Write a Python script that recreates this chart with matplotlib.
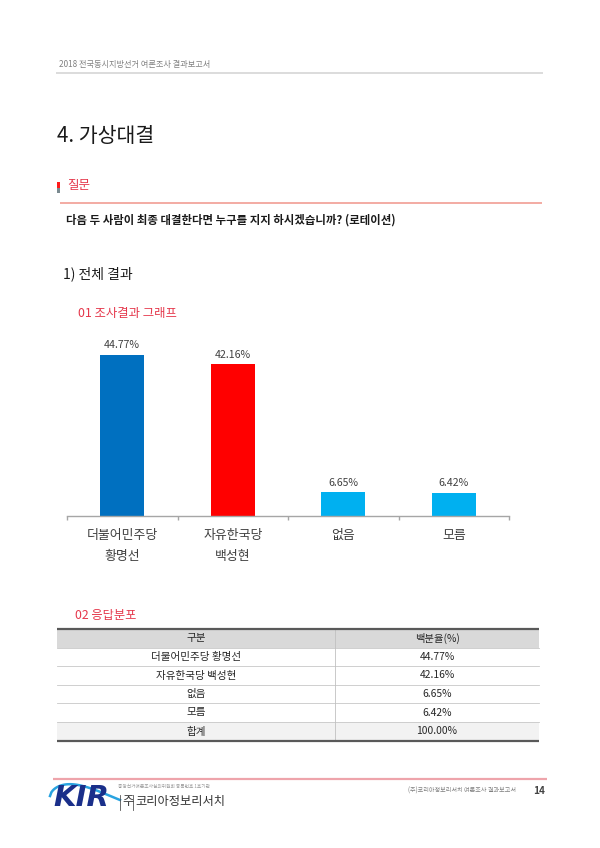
import matplotlib
matplotlib.use("Agg")
import matplotlib.pyplot as plt
from matplotlib.patches import Rectangle
import numpy as np

plt.rcParams['font.family'] = ['Noto Sans CJK KR', 'DejaVu Sans']

# ---------------- data ----------------
categories = ["더불어민주당\n황명선", "자유한국당\n백성현", "없음", "모름"]
values = [44.77, 42.16, 6.65, 6.42]
bar_colors = ["#0070c0", "#ff0000", "#00b0f0", "#00b0f0"]
table_header = ["구분", "백분율(%)"]
total_label = "합계"
total_value = 100.00

header_text = "2018 전국동시지방선거 여론조사 결과보고서"
title_text = "4. 가상대결"
question_label = "질문"
question_text = "다음 두 사람이 최종 대결한다면 누구를 지지 하시겠습니까? (로테이션)"
section_text = "1) 전체 결과"
graph_title = "01 조사결과 그래프"
table_title = "02 응답분포"

RED = "#e5374b"
W, H = 600, 848

fig = plt.figure(figsize=(W / 100, H / 100), dpi=100)
fig.patch.set_facecolor("white")

# page overlay axes in pixel coordinates
page = fig.add_axes([0, 0, 1, 1])
page.set_xlim(0, W)
page.set_ylim(H, 0)
page.axis("off")

# header
page.text(59, 64, header_text, fontsize=5.9, color="#808080", va="center")
page.plot([56, 543], [73, 73], color="#d9d9d9", lw=1.3, solid_capstyle="butt")

# title
page.text(57, 136, title_text, fontsize=14.8, color="#1a1a1a", va="center")

# question marker
page.add_patch(Rectangle((57, 182), 3, 6, color="#ff1a1a", lw=0))
page.add_patch(Rectangle((57, 188), 3, 5, color="#7a8a90", lw=0))
page.text(67, 186, question_label, fontsize=9, color=RED, va="center")
page.plot([60, 542], [203, 203], color="#f2a59c", lw=1.3, solid_capstyle="butt")
page.text(66, 220, question_text, fontsize=8.2, fontweight="bold", color="#1a1a1a", va="center")

page.text(63, 274, section_text, fontsize=10, color="#1a1a1a", va="center")
page.text(78, 313, graph_title, fontsize=8.9, color=RED, va="center")
page.text(75, 616, table_title, fontsize=8.8, color=RED, va="center")

# ---------------- bar chart ----------------
ax_left, ax_right, ax_base, ax_top = 67, 509, 516, 336
ax = fig.add_axes([ax_left / W, (H - ax_base) / H, (ax_right - ax_left) / W, (ax_base - ax_top) / H])
ax.set_facecolor("none")
x = np.arange(len(categories))
bars = ax.bar(x, values, width=0.4, color=bar_colors, zorder=2)
ax.set_xlim(-0.5, len(categories) - 0.5)
ax.set_ylim(0, 50)
for s in ["top", "left", "right"]:
    ax.spines[s].set_visible(False)
ax.spines["bottom"].set_color("#a6a6a6")
ax.spines["bottom"].set_linewidth(1.0)
ax.set_yticks([])
ax.set_xticks(x)
ax.set_xticklabels(categories, fontsize=9.3, color="#404040", linespacing=1.78)
ax.tick_params(axis="x", which="major", length=0, pad=9.5)
ax.set_xticks(np.arange(-0.5, len(categories), 1.0), minor=True)
ax.tick_params(axis="x", which="minor", length=3, color="#a6a6a6", width=1.0)
for xi, v in zip(x, values):
    ax.annotate(f"{v:.2f}%", (xi, v), xytext=(0, 3.2), textcoords="offset points",
                ha="center", va="bottom", fontsize=7.6, color="#404040")

# ---------------- table ----------------
tl, tr, tdiv = 57, 539, 335
edges = [629, 648, 666, 685, 703, 722, 741]
page.add_patch(Rectangle((tl, edges[0]), tr - tl, edges[1] - edges[0], color="#d9d9d9", lw=0))
page.add_patch(Rectangle((tl, edges[-2]), tr - tl, edges[-1] - edges[-2], color="#f2f2f2", lw=0))
for yy in edges[1:-1]:
    page.plot([tl, tr], [yy, yy], color="#c8c8c8", lw=0.6)
page.plot([tdiv, tdiv], [edges[0], edges[-1]], color="#c0c0c0", lw=0.6)
page.plot([tl, tr], [edges[0], edges[0]], color="#595959", lw=1.6, solid_capstyle="butt")
page.plot([tl, tr], [edges[-1], edges[-1]], color="#595959", lw=1.6, solid_capstyle="butt")

cx_l, cx_r = (tl + tdiv) / 2, (tdiv + tr) / 2
rows = [(table_header[0], table_header[1])]
rows += [(c.replace("\n", " "), f"{v:.2f}%") for c, v in zip(categories, values)]
rows += [(total_label, f"{total_value:.2f}%")]
for i, (a, b) in enumerate(rows):
    yc = (edges[i] + edges[i + 1]) / 2
    page.text(cx_l, yc, a, fontsize=7.6, color="#262626", ha="center", va="center")
    page.text(cx_r, yc, b, fontsize=7.4, color="#262626", ha="center", va="center")

# ---------------- footer ----------------
page.plot([53, 547], [779, 779], color="#eea4ab", lw=1.6, solid_capstyle="butt")
t = np.linspace(0, 1, 50)
page.plot(50 + 70 * t, 796 - 13 * np.sin(np.pi * t ** 0.6) + 4 * t, color="#29a3e0", lw=1.8)
page.text(53, 798, "KIR", fontsize=21, fontweight="bold", style="italic", color="#1a2f8a",
          va="center", family="DejaVu Sans")
page.text(118, 787, "중앙선거여론조사심의위원회 등록번호 1호기관", fontsize=3.4, color="#9a9a9a", va="center")
page.plot([120, 120], [795, 810], color="#555555", lw=0.6)
page.text(122, 802, "주", fontsize=8.8, color="#333333", va="center")
page.plot([133, 133], [795, 810], color="#555555", lw=0.6)
page.text(135, 802, "코리아정보리서치", fontsize=8.8, color="#333333", va="center")
page.text(408, 791, "(주)코리아정보리서치 여론조사 결과보고서", fontsize=4.4, color="#808080", va="center")
page.text(533, 791, "14", fontsize=7.2, fontweight="bold", color="#444444", va="center")

fig.savefig("out.png", dpi=100, facecolor="white")
